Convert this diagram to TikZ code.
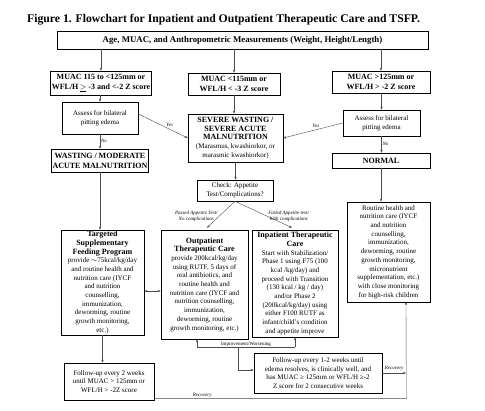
\documentclass[tikz,border=0pt]{standalone}
\usepackage{fontspec}
\setmainfont{Liberation Serif}
\usetikzlibrary{arrows.meta,calc}
\begin{document}
\begin{tikzpicture}[x=1pt,y=-1pt,
  box/.style={draw=black, line width=0.6pt, align=center, inner sep=1pt, font=\fontsize{7}{8.7}\selectfont},
  bbox/.style={box, font=\bfseries\fontsize{8}{10}\selectfont},
  arr/.style={-{Stealth[length=3pt,width=2.4pt]}, line width=0.4pt, draw=black!70},
  darr/.style={{Stealth[length=3pt,width=2.4pt]}-{Stealth[length=3pt,width=2.4pt]}, line width=0.4pt, draw=black!70},
  ln/.style={line width=0.4pt, draw=black!70},
  lab/.style={font=\itshape\fontsize{5}{6}\selectfont, inner sep=0.8pt}]
\useasboundingbox (0,0) rectangle (485,410);
\node[font=\bfseries\fontsize{11.7}{13}\selectfont, inner sep=0pt, anchor=west] (title) at (27,20) {Figure 1. Flowchart for Inpatient and Outpatient Therapeutic Care and TSFP.};
\node[box, font=\bfseries\fontsize{8.8}{10}\selectfont, minimum width=371pt, minimum height=18pt] (top) at (242.5,40) {Age, MUAC, and Anthropometric Measurements (Weight, Height/Length)};
\node[bbox, minimum width=98pt, minimum height=24pt] (L1) at (101,83) {MUAC 115 to <125mm or\\WFL/H$\,\underline{>}$ -3 and <-2 Z score};
\node[bbox, minimum width=92pt, minimum height=22pt] (M1) at (234,84) {MUAC <115mm or\\WFL/H < -3 Z score};
\node[bbox, minimum width=98pt, minimum height=22pt] (R1) at (381,82) {MUAC >125mm or\\WFL/H > -2 Z score};
\node[box, minimum width=76pt, minimum height=32pt] (L2) at (100,118) {Assess for bilateral\\pitting edema};
\node[box, minimum width=77pt, minimum height=26pt] (R2) at (381.5,123) {Assess for bilateral\\pitting edema};
\node[box, minimum width=95pt, minimum height=48pt] (M2) at (235.5,138) {\textbf{\fontsize{8}{9.4}\selectfont SEVERE WASTING /}\\\textbf{\fontsize{8}{9.4}\selectfont SEVERE ACUTE}\\\textbf{\fontsize{8}{9.4}\selectfont MALNUTRITION}\\(Marasmus, kwashiorkor, or\\marasmic kwashiorkor)};
\node[bbox, minimum width=94pt, minimum height=23pt] (W) at (100,160.5) {WASTING / MODERATE\\ACUTE MALNUTRITION};
\node[bbox, minimum width=98pt, minimum height=15pt] (N) at (381,160.5) {NORMAL};
\node[box, minimum width=76pt, minimum height=21pt] (C) at (235,190.5) {Check: Appetite\\Test/Complications?};
\node[box, minimum width=83pt, minimum height=105pt] (T) at (102.5,282.5) {\textbf{\fontsize{8}{9}\selectfont Targeted}\\\textbf{\fontsize{8}{9}\selectfont Supplementary}\\\textbf{\fontsize{8}{9}\selectfont Feeding Program}\\provide $\sim$75kcal/kg/day\\and routine health and\\nutrition care (IYCF\\and nutrition\\counselling,\\immunization,\\deworming, routine\\growth monitoring,\\etc.)};
\node[box, minimum width=87pt, minimum height=109pt] (O) at (204.5,284.5) {\textbf{\fontsize{8}{9}\selectfont Outpatient}\\\textbf{\fontsize{8}{9}\selectfont Therapeutic Care}\\provide 200kcal/kg/day\\using RUTF, 5 days of\\oral antibiotics, and\\routine health and\\nutrition care (IYCF and\\nutrition counselling,\\immunization,\\deworming, routine\\growth monitoring, etc.)};
\node[box, minimum width=86pt, minimum height=107pt] (I) at (295,283.5) {\textbf{\fontsize{8}{9}\selectfont Inpatient Therapeutic}\\\textbf{\fontsize{8}{9}\selectfont Care}\\Start with Stabilization/\\Phase 1 using F75 (100\\kcal /kg/day) and\\proceed with Transition\\(130 kcal / kg / day)\\and/or Phase 2\\(200kcal/kg/day) using\\either F100 RUTF as\\infant/child's condition\\and appetite improve};
\node[box, minimum width=83pt, minimum height=100pt] (Rt) at (388.5,252) {Routine health and\\nutrition care (IYCF\\and nutrition\\counselling,\\immunization,\\deworming, routine\\growth monitoring,\\micronutrient\\supplementation, etc.)\\with close monitoring\\for high-risk children};
\node[box, minimum width=90pt, minimum height=37pt] (FL) at (109,381.5) {Follow-up every 2 weeks\\until MUAC > 125mm or\\WFL/H > -2Z score};
\node[box, minimum width=128pt, minimum height=40pt] (FR) at (318,373) {Follow-up every 1-2 weeks until\\edema resolves, is clinically well, and\\has MUAC ≥ 125mm or WFL/H ≥-2\\Z score for 2 consecutive weeks};
% connectors
\draw[arr] (L1.north |- top.south) -- (L1.north);
\draw[arr] (M1.north |- top.south) -- (M1.north);
\draw[arr] (R1.north |- top.south) -- (R1.north);
\draw[arr] (L2.north |- L1.south) -- (L2.north);
\draw[arr] (M1.south) -- (M1.south |- M2.north);
\draw[arr] (R2.north |- R1.south) -- (R2.north);
\draw[arr] (L2.south) -- node[lab, right, pos=0.45] {No} (L2.south |- W.north);
\draw[arr] (R2.south) -- node[lab, right, pos=0.45] {No} (R2.south |- N.north);
\draw[arr] ($(L2.east)+(0,-4)$) -- node[lab, pos=0.55, above right=0pt] {Yes} (M2.west);
\draw[arr] (R2.west) -- node[lab, pos=0.45, above=1pt] {Yes} (M2.east);
\draw[arr] (M2.south) -- (M2.south |- C.north);
\draw[arr] (W.south) -- (W.south |- T.north);
\draw[arr] (N.south) -- (N.south |- Rt.north);
\draw[arr] (C.south) -- node[lab, align=center, pos=0.55, left=1pt] {Passed Appetite Test/\\No complications} ($(O.north)+(2.5,-2)$);
\draw[arr] (C.south) -- node[lab, align=center, pos=0.55, right=1pt] {Failed Appetite test/\\With complications} ($(I.north)+(-3,-2)$);
\draw[darr] ($(T.east)+(0,8.5)$) -- ($(O.west)+(0,6.5)$);
\draw[arr] (T.south) -- (T.south |- FL.north);
\coordinate (iwL) at (197,347);
\coordinate (iwR) at (295,347);
\coordinate (iwM) at (238,347);
\draw[arr] (iwL) -- (iwL |- O.south);
\draw[arr] (iwR) -- (iwR |- I.south);
\draw[ln] (iwL) -- node[lab, above=-0.5pt, font=\fontsize{5}{6}\selectfont] {Improvement/Worsening} (iwR);
\draw[arr] (iwM) |- ($(FR.west)+(0,-3)$);
\coordinate (recTop) at (406,302);
\draw[arr] (FR.east) -- node[lab, above=1pt] {Recovery} (FR.east -| recTop);
\draw[arr] ($(FL.south east)+(0,-2)$) -- node[lab, above, pos=0.19] {Recovery} ($(FL.south east)+(252,-2)$) -- (recTop);
\end{tikzpicture}
\end{document}
